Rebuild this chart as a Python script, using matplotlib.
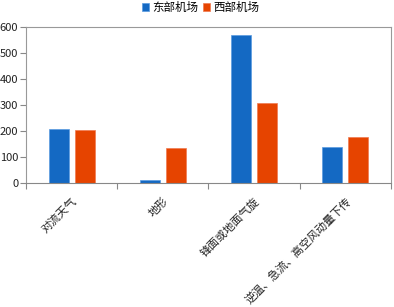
import matplotlib
matplotlib.use("Agg")
import matplotlib.pyplot as plt
import numpy as np

plt.rcParams['font.family'] = ['Noto Sans CJK SC', 'DejaVu Sans']

categories = ['对流天气', '地形', '锋面或地面气旋', '逆温、急流、高空风动量下传']
series_names = ['东部机场', '西部机场']
east = [208, 12, 568, 139]
west = [205, 136, 307, 177]
colors = ['#1469C3', '#E64400']

fig = plt.figure(figsize=(3.94, 3.07), dpi=100)
ax = fig.add_axes([26/394, 1-183/307, (391-26)/394, (183-27)/307])

x = np.arange(len(categories))
w = 0.22
off = 0.143
ax.bar(x - off, east, w, color=colors[0], label=series_names[0], edgecolor='#5a9be0', linewidth=0.5)
ax.bar(x + off, west, w, color=colors[1], label=series_names[1], edgecolor='#f07a50', linewidth=0.5)

ax.set_xlim(-0.5, len(categories) - 0.5)
ax.set_ylim(0, 600)
ax.set_yticks(range(0, 601, 100))
ax.set_xticks(np.arange(len(categories) + 1) - 0.5)
ax.set_xticklabels([])
ax.set_xticks(x, minor=True)
ax.set_xticklabels(categories, minor=True, rotation=45, ha='right', va='top',
                   rotation_mode='anchor', fontsize=8, color='#222222')
ax.tick_params(axis='x', which='minor', length=0, pad=9)
ax.tick_params(axis='x', which='major', length=4, color='#888888', direction='out')
ax.tick_params(axis='y', length=4, color='#888888', labelsize=8, labelcolor='#222222', pad=1.5)
for s in ax.spines.values():
    s.set_color('#999999')
    s.set_linewidth(0.8)
ax.spines['bottom'].set_color('#888888')

fig.legend(loc='upper center', bbox_to_anchor=(0.51, 1.03), ncol=2, frameon=False,
           fontsize=8.3, handlelength=0.6, handleheight=0.6, handletextpad=0.3,
           columnspacing=0.4)

fig.savefig('out.png', dpi=100)
